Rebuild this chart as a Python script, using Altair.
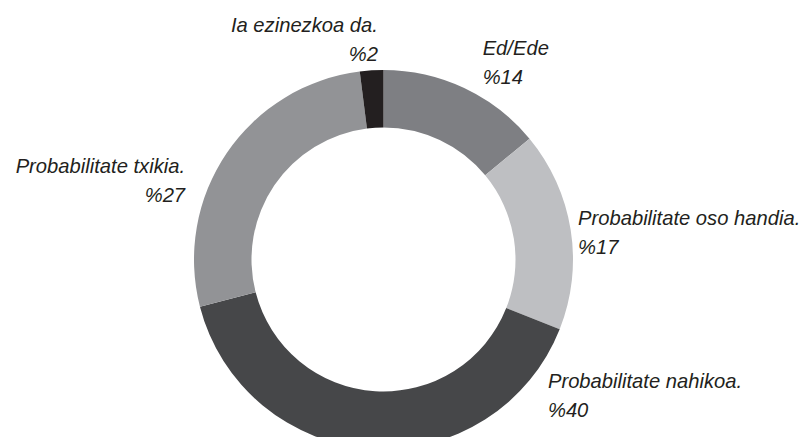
import altair as alt
import pandas as pd

labels = ["Ed/Ede", "Probabilitate oso handia.", "Probabilitate nahikoa.",
          "Probabilitate txikia.", "Ia ezinezkoa da."]
values = [14, 17, 40, 27, 2]
colors = ["#7e7f83", "#bebfc2", "#464749", "#929396", "#231f20"]

df = pd.DataFrame({"label": labels, "value": values, "color": colors})

sc = alt.Scale(domain=[0, 100], range=[0, 6.283185307179586])

base = alt.Chart(df).transform_window(
    end="sum(value)", frame=[None, 0]
).transform_calculate(
    start="datum.end - datum.value",
    mid="datum.end - datum.value / 2",
    text="datum.label + '\\n%' + datum.value",
)

arcs = base.mark_arc(innerRadius=132, outerRadius=189.5).encode(
    theta=alt.Theta("start:Q", scale=sc, stack=False),
    theta2="end:Q",
    color=alt.Color("color:N", scale=None),
)

# label placement styles: (dx, dy, align)
place = {
    "Ed/Ede": (14, -23.5, "left"),
    "Probabilitate oso handia.": (-3, -3, "left"),
    "Probabilitate nahikoa.": (177, -71, "left"),
    "Probabilitate txikia.": (-33, 26, "right"),
    "Ia ezinezkoa da.": (7, -28, "right"),
}

texts = []
for lab in labels:
    dx, dy, al = place[lab]
    texts.append(
        base.transform_filter(alt.datum.label == lab).mark_text(
            radius=200, align=al, baseline="alphabetic", dx=dx, dy=dy,
            font="Liberation Sans", fontStyle="italic", fontSize=20.2,
            lineHeight=29, lineBreak="\n", color="#231f20",
        ).encode(
            theta=alt.Theta("mid:Q", scale=sc, stack=False),
            text="text:N",
        )
    )

chart = alt.layer(arcs, *texts).properties(
    width=751, height=355,
    padding={"left": 0, "top": 74, "right": 45, "bottom": 0},
    autosize=alt.AutoSizeParams(type="none"),
).configure_view(stroke=None)

chart.save("out.html", embed_options={"renderer": "svg", "actions": False})
